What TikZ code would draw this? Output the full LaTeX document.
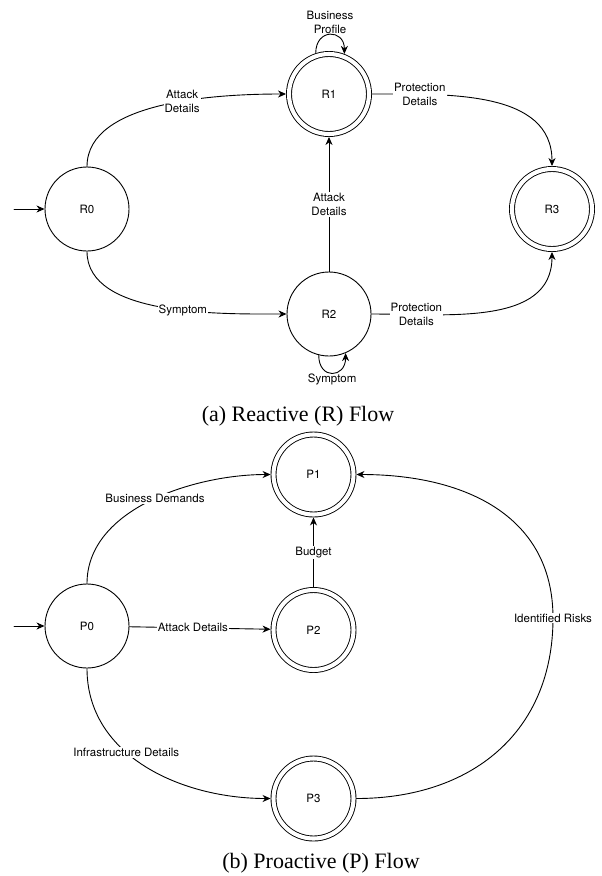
\documentclass[tikz,border=0pt]{standalone}
\usepackage{fontspec}
\setmainfont{TeX Gyre Heros}
\newfontfamily\capfont{Liberation Serif}
\usetikzlibrary{arrows.meta}
\begin{document}
\begin{tikzpicture}[x=1pt,y=1pt,line cap=round,line join=round,
    every node/.style={font=\fontsize{11.5}{14}\selectfont},
    state/.style={circle,draw,line width=.9pt,minimum size=84pt,inner sep=0pt},
    accept/.style={state,double,double distance=4.1pt,minimum size=80pt,outer sep=2.95pt},
    lbl/.style={fill=white,inner sep=1pt,align=center},
    edge/.style={line width=.9pt,-{Stealth[length=8pt,width=7pt,inset=2.5pt]}},
    caption/.style={font=\capfont\fontsize{22}{24}\selectfont}]
  \useasboundingbox (0,0) rectangle (602,-876);
  \node[state]  (R0) at (87,-209) {R0};
  \node[accept] (R1) at (329,-94) {R1};
  \node[state]  (R2) at (329,-314) {R2};
  \node[accept] (R3) at (552,-209) {R3};
  \coordinate (inR) at (14,-209);
  \draw[edge] (inR) -- (R0);
  \draw[edge] (R0.north) to[out=90,in=180,looseness=.8] node[lbl,pos=.58] {Attack\\Details} (R1.west);
  \draw[edge] (R0.south) to[out=-90,in=180,looseness=.8] node[lbl,pos=.58] {Symptom} (R2.west);
  \draw[edge] (R2) -- node[lbl] {Attack\\Details} (R1);
  \draw[edge] (R1.east) to[out=0,in=90] node[lbl,pos=.2] {Protection\\Details} (R3.north);
  \draw[edge] (R2.east) to[out=0,in=-90] node[lbl,pos=.19] {Protection\\Details} (R3.south);
  \draw[edge] (R1.108) .. controls +(0,25) and +(0,25) .. node[above,inner sep=1pt,align=center] {Business\\Profile} (R1.69);
  \draw[edge] (R2.256) .. controls +(0,-25) and +(0,-25) .. node[below,inner sep=1pt] {Symptom} (R2.293);
  \node[caption] (capR) at (298,-416) {(a) Reactive (R) Flow};

  \node[state]  (P0) at (87,-626) {P0};
  \node[accept] (P1) at (313.5,-474.5) {P1};
  \node[accept] (P2) at (313.5,-630) {P2};
  \node[accept] (P3) at (313.5,-798.5) {P3};
  \coordinate (inP) at (14,-626);
  \coordinate (risk) at (553,-618);
  \draw[edge] (inP) -- (P0);
  \draw[edge] (P0.north) to[out=90,in=180,looseness=.9] node[lbl,pos=.52] {Business Demands} (P1.west);
  \draw[edge] (P0) -- node[lbl,pos=.45] {Attack Details} (P2);
  \draw[edge] (P0.south) to[out=-90,in=180] node[lbl,pos=.4] {Infrastructure Details} (P3.west);
  \draw[edge] (P2) -- node[lbl] {Budget} (P1);
  \draw[edge] (P3.east) to[out=0,in=-90,looseness=1.1] (risk) node[lbl] {Identified Risks} to[out=90,in=0,looseness=1.1] (P1.east);
  \node[caption] (capP) at (321,-863) {(b) Proactive (P) Flow};
\end{tikzpicture}
\end{document}
